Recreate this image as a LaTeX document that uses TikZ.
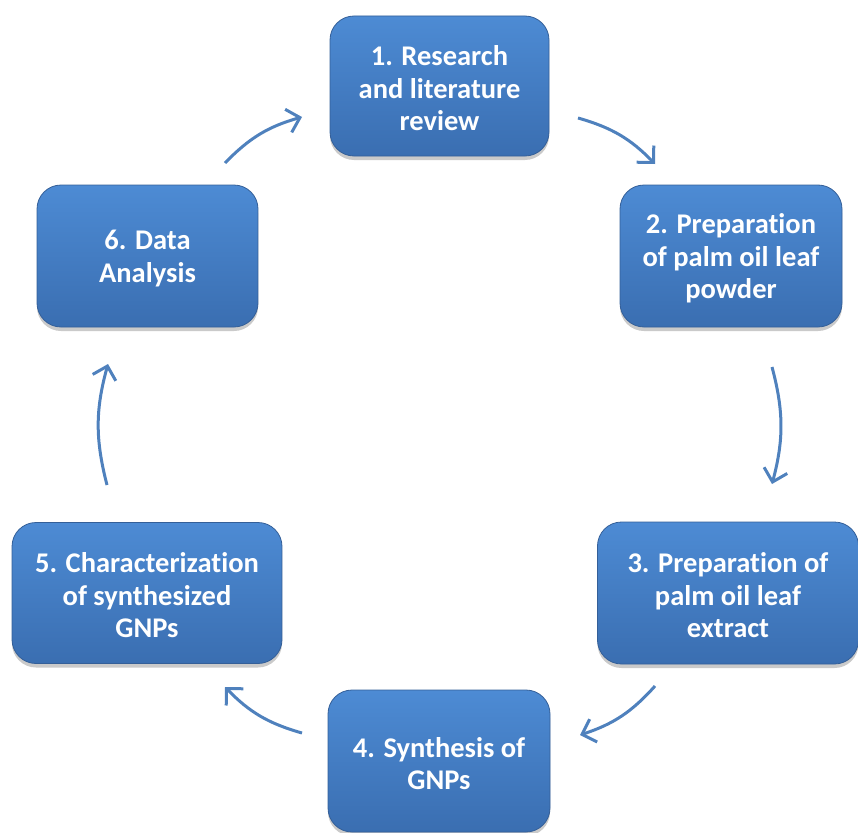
\documentclass[tikz,border=0pt]{standalone}
\usepackage{fontspec}
\setmainfont{Carlito}[Ligatures={NoCommon}]
\usetikzlibrary{arrows.meta,shadows}
\definecolor{boxtop}{HTML}{4D8BD4}
\definecolor{boxbot}{HTML}{3A6EB1}
\definecolor{boxedge}{HTML}{345F98}
\definecolor{arrowc}{HTML}{4F81BD}
\newcommand{\boxtext}[2]{\raisebox{-2.5pt}[\height][\depth]{\parbox{#1}{\centering #2}}}
\tikzset{
  stepbox/.style={rounded corners=24pt, top color=boxtop, bottom color=boxbot,
    draw=boxedge, line width=0.8pt, text=white, align=center,
    font=\bfseries\fontsize{28.5}{32.5}\selectfont, inner sep=0pt,
    drop shadow={shadow xshift=0pt, shadow yshift=-4pt, opacity=0.35, fill=black!60}},
  flow/.style={draw=arrowc, line width=3pt, bend left=15,
    -{Straight Barb[length=12pt,width=24pt,line width=3pt]}}
}
\begin{document}
\begin{tikzpicture}[x=1pt,y=-1pt]
\useasboundingbox (0,0) rectangle (858,832);
\node[stepbox, minimum width=219pt, minimum height=140pt] (b1) at (439.5,86) {\boxtext{219pt}{1. Research\\and literature\\review}};
\node[stepbox, minimum width=222pt, minimum height=142pt] (b2) at (731,256) {\boxtext{222pt}{2. Preparation\\of palm oil leaf\\powder}};
\node[stepbox, minimum width=261pt, minimum height=142pt] (b3) at (728,593) {\boxtext{261pt}{3. Preparation of\\palm oil leaf\\extract}};
\node[stepbox, minimum width=222pt, minimum height=142pt] (b4) at (439,761) {\boxtext{222pt}{4. Synthesis of\\GNPs}};
\node[stepbox, minimum width=270pt, minimum height=141pt] (b5) at (147,593) {\boxtext{270pt}{5. Characterization\\of synthesized\\GNPs}};
\node[stepbox, minimum width=221pt, minimum height=142pt] (b6) at (147.5,256) {\boxtext{221pt}{6. Data\\Analysis}};
\coordinate (a1s) at (578,118); \coordinate (a1e) at (655,164);
\coordinate (a2s) at (772,367); \coordinate (a2e) at (772,484);
\coordinate (a3s) at (655,686); \coordinate (a3e) at (580,735);
\coordinate (a4s) at (302,733); \coordinate (a4e) at (225,687);
\coordinate (a5s) at (107,485); \coordinate (a5e) at (108,364);
\coordinate (a6s) at (225,163); \coordinate (a6e) at (302,117);
\draw[flow] (a1s) to (a1e);
\draw[flow] (a2s) to (a2e);
\draw[flow] (a3s) to (a3e);
\draw[flow] (a4s) to (a4e);
\draw[flow] (a5s) to (a5e);
\draw[flow] (a6s) to (a6e);
\end{tikzpicture}
\end{document}
